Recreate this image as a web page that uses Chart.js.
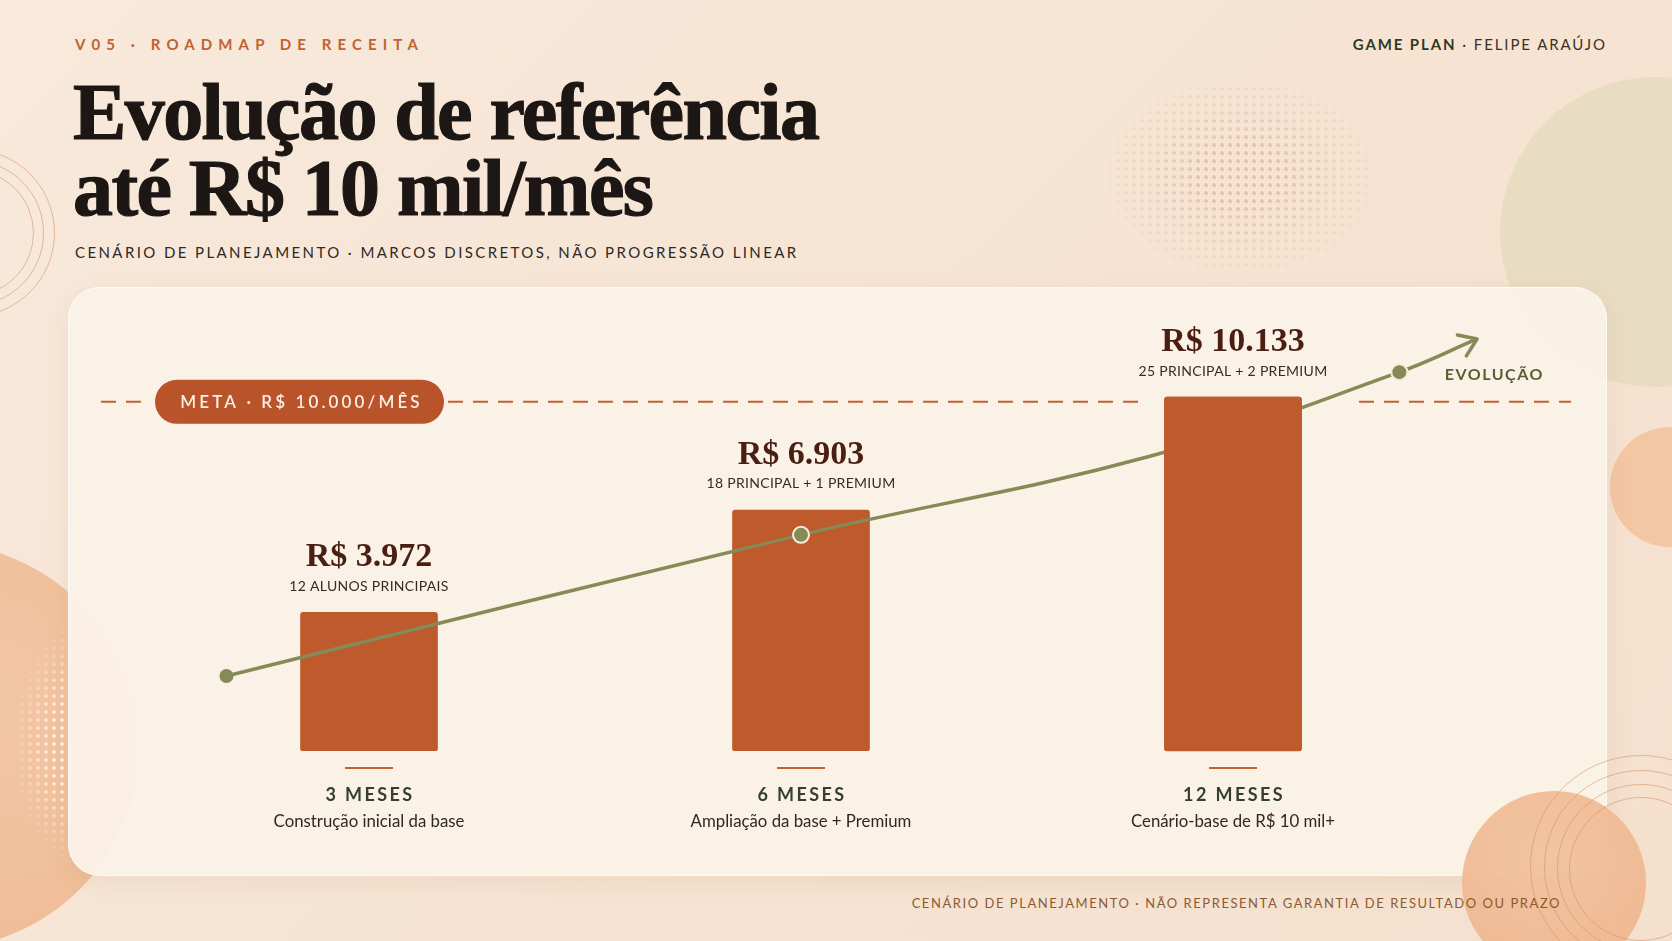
<!DOCTYPE html>
<html lang="pt-BR">
<head>
<meta charset="utf-8">
<script src="https://cdn.jsdelivr.net/npm/chart.js@4.4.1/dist/chart.umd.min.js"></script>
<style>
  html, body { margin: 0; padding: 0; }
  body {
    width: 1672px; height: 941px; overflow: hidden; position: relative;
    background: linear-gradient(135deg, #f8e9db 0%, #f6e3d2 60%, #f4e0cd 100%);
    font-family: Lato, 'Open Sans', sans-serif;
  }
  .deco { position: absolute; border-radius: 50%; }
  .ring { position: absolute; border-radius: 50%; border: 1px solid rgba(214, 140, 95, 0.55); }
  .dots { position: absolute; }
  #card {
    position: absolute; left: 68px; top: 287px; width: 1537px; height: 587px;
    border-radius: 32px; background: rgba(251, 242, 232, 0.94);
    box-shadow: 0 6px 24px rgba(160, 110, 70, 0.10);
    border: 1px solid rgba(255, 255, 255, 0.7);
  }
  .kicker {
    position: absolute; left: 75px; top: 35px; font-size: 15px; font-weight: 700;
    letter-spacing: 6.1px; color: #c0622e;
  }
  .byline {
    position: absolute; right: 65px; top: 35px; font-size: 15px; letter-spacing: 1.9px; color: #3b3127;
  }
  .byline b { color: #2f3a22; }
  h1 {
    position: absolute; left: 73px; top: 74px; margin: 0;
    font-family: 'Liberation Serif', serif; font-weight: 700; font-size: 80px;
    line-height: 76px; color: #1c1714; letter-spacing: -1.6px;
    -webkit-text-stroke: 1.2px #1c1714;
  }
  .sub {
    position: absolute; left: 75px; top: 243px; font-size: 15px; letter-spacing: 2.4px; color: #2e2924;
  }
  .foot {
    position: absolute; right: 111px; top: 895px; font-size: 13px; letter-spacing: 1.55px; color: #8b5a32;
  }
  #chart { position: absolute; left: 0; top: 0; }
</style>
</head>
<body>
<div class="deco" style="left:1500px;top:77px;width:310px;height:310px;background:#e8dcc2;"></div>
<div class="deco" style="left:1610px;top:427px;width:120px;height:120px;background:#f3c6a4;"></div>
<div class="deco" style="left:-267px;top:543px;width:406px;height:406px;background:radial-gradient(circle at 60% 40%, #f3c7a5, #eeb892);"></div>
<div class="dots" style="left:10px;top:620px;width:120px;height:250px;background-image:radial-gradient(circle, rgba(255,243,230,0.9) 1.6px, transparent 2.2px);background-size:8px 8px;-webkit-mask-image:radial-gradient(ellipse at 60% 50%, #000 25%, transparent 70%);"></div>
<div class="dots" style="left:1090px;top:85px;width:300px;height:200px;background-image:radial-gradient(circle, rgba(214,172,136,0.55) 1.6px, transparent 2.2px);background-size:8px 8px;-webkit-mask-image:radial-gradient(ellipse at 50% 45%, #000 20%, transparent 68%);"></div>
<div class="ring" style="left:-113px;top:149px;width:166px;height:166px;"></div>
<div class="ring" style="left:-102px;top:160px;width:144px;height:144px;"></div>
<div class="ring" style="left:-92px;top:170px;width:124px;height:124px;"></div>
<div id="card"></div>
<div class="deco" style="left:1462px;top:791px;width:184px;height:184px;background:radial-gradient(circle at 45% 35%, #f2c29e, #eeb48c);opacity:0.95;"></div>
<div class="ring" style="left:1530px;top:755px;width:220px;height:220px;"></div>
<div class="ring" style="left:1544px;top:770px;width:192px;height:192px;"></div>
<div class="ring" style="left:1557px;top:784px;width:166px;height:166px;"></div>
<div class="ring" style="left:1569px;top:797px;width:142px;height:142px;"></div>

<div class="kicker">V05 · ROADMAP DE RECEITA</div>
<div class="byline"><b>GAME PLAN</b> · FELIPE ARAÚJO</div>
<h1>Evolução de referência<br>até R$ 10 mil/mês</h1>
<div class="sub">CENÁRIO DE PLANEJAMENTO · MARCOS DISCRETOS, NÃO PROGRESSÃO LINEAR</div>
<div class="foot">CENÁRIO DE PLANEJAMENTO · NÃO REPRESENTA GARANTIA DE RESULTADO OU PRAZO</div>

<canvas id="chart" width="1672" height="941"></canvas>

<script>
// milestones
const categories = ['3 MESES', '6 MESES', '12 MESES'];
const descriptions = ['Construção inicial da base', 'Ampliação da base + Premium', 'Cenário-base de R$ 10 mil+'];
const revenue = [3972, 6903, 10133];
const mixLabels = ['12 ALUNOS PRINCIPAIS', '18 PRINCIPAL + 1 PREMIUM', '25 PRINCIPAL + 2 PREMIUM'];
const goal = 10000;
const goalLabel = 'META · R$ 10.000/MÊS';

// "evolução" trend curve (x in milestone units), last point is the arrow tip
const trendX = [-0.33, 1, 1.81, 2.385, 2.565];
const trendY = [2150, 6190, 8450, 10850, 11800];
const trendDots = [7, 8, 0, 8, 0];

const ORANGE = '#bf5a2d';
const OLIVE = '#858a56';
const fmt = (v) => 'R$ ' + v.toLocaleString('pt-BR');

const overlay = {
    id: 'overlay',
    beforeDatasetsDraw(chart) {
        const ctx = chart.ctx;
        const y = chart.scales.y.getPixelForValue(goal);
        const b3 = chart.getDatasetMeta(1).data[2];
        const pillL = 155, pillR = 444;

        // goal dashed line, broken around the pill and the last label
        ctx.save();
        ctx.strokeStyle = '#c4612f';
        ctx.lineWidth = 2;
        ctx.setLineDash([15, 10]);
        const segs = [[101, pillL - 8], [pillR + 4, b3.x - 94], [b3.x + 126, 1571]];
        segs.forEach(s => {
            ctx.beginPath(); ctx.moveTo(s[0], y); ctx.lineTo(s[1], y); ctx.stroke();
        });
        ctx.setLineDash([]);

        ctx.fillStyle = '#b9532a';
        ctx.beginPath();
        ctx.roundRect(pillL, y - 22, pillR - pillL, 44, 22);
        ctx.fill();
        ctx.fillStyle = '#fbeee2';
        ctx.font = '600 17px Lato';
        ctx.letterSpacing = '3.1px';
        ctx.textAlign = 'center';
        ctx.textBaseline = 'middle';
        ctx.fillText(goalLabel, (pillL + pillR) / 2 + 2, y + 1);
        ctx.restore();
    },
    afterDatasetsDraw(chart) {
        const ctx = chart.ctx;
        const bars = chart.getDatasetMeta(1).data;
        const pts = chart.getDatasetMeta(0).data;
        const base = chart.scales.y.getPixelForValue(0);

        // the last bar sits in front of the trend curve
        bars[2].draw(ctx);

        ctx.save();
        ctx.textAlign = 'center';
        ctx.textBaseline = 'middle';

        bars.forEach((bar, i) => {
            ctx.letterSpacing = '0px';
            ctx.fillStyle = '#4a1f12';
            ctx.font = 'bold 34px "Liberation Serif"';
            ctx.fillText(fmt(revenue[i]), bar.x, bar.y - 55);
            ctx.fillStyle = '#3a2a20';
            ctx.font = '14px Lato';
            ctx.letterSpacing = '0.3px';
            ctx.fillText(mixLabels[i], bar.x, bar.y - 26);

            ctx.strokeStyle = '#c4612f';
            ctx.lineWidth = 2;
            ctx.beginPath();
            ctx.moveTo(bar.x - 24, base + 17); ctx.lineTo(bar.x + 24, base + 17);
            ctx.stroke();

            ctx.fillStyle = '#34402a';
            ctx.font = 'bold 18px Lato';
            ctx.letterSpacing = '2.4px';
            ctx.fillText(categories[i], bar.x + 1, base + 44);
            ctx.fillStyle = '#2f2822';
            ctx.font = '16.8px Lato';
            ctx.letterSpacing = '0px';
            ctx.fillText(descriptions[i], bar.x, base + 71);
        });

        // arrow head at the end of the trend
        const a = pts[pts.length - 2], t = pts[pts.length - 1];
        const ang = Math.atan2(t.y - a.y, t.x - a.x);
        ctx.strokeStyle = OLIVE;
        ctx.lineWidth = 3.5;
        ctx.lineCap = 'round';
        ctx.lineJoin = 'round';
        ctx.beginPath();
        ctx.moveTo(t.x - 20 * Math.cos(ang - 0.6), t.y - 20 * Math.sin(ang - 0.6));
        ctx.lineTo(t.x, t.y);
        ctx.lineTo(t.x - 20 * Math.cos(ang + 0.6), t.y - 20 * Math.sin(ang + 0.6));
        ctx.stroke();

        const p3 = pts[pts.length - 2];
        ctx.fillStyle = '#566032';
        ctx.font = 'bold 16px Lato';
        ctx.letterSpacing = '1.5px';
        ctx.fillText('EVOLUÇÃO', p3.x + 95, p3.y + 3);
        ctx.restore();
    }
};

new Chart(document.getElementById('chart'), {
    type: 'bar',
    data: {
        labels: categories,
        datasets: [
            {
                type: 'line',
                order: 0,
                xAxisID: 'x2',
                data: trendX.map((x, i) => ({ x: x, y: trendY[i] })),
                borderColor: OLIVE,
                borderWidth: 3.5,
                tension: 0.4,
                pointRadius: trendDots,
                pointBackgroundColor: OLIVE,
                pointBorderColor: '#f6ecdc',
                pointBorderWidth: trendDots.map(r => r > 7 ? 2 : 0),
                clip: false
            },
            {
                type: 'bar',
                order: 1,
                data: revenue,
                backgroundColor: ORANGE,
                borderRadius: 3,
                borderSkipped: false,
                grouped: false,
                barThickness: 137,
                maxBarThickness: 137
            }
        ]
    },
    options: {
        responsive: false,
        animation: false,
        devicePixelRatio: 1,
        layout: { padding: { left: 153, right: 223, top: 332, bottom: 190 } },
        plugins: { legend: { display: false }, tooltip: { enabled: false } },
        scales: {
            x: { display: false, offset: true },
            x2: { type: 'linear', display: false, offset: false, min: -0.5, max: 2.5 },
            y: { display: false, min: 0, max: 12000 }
        }
    },
    plugins: [overlay]
});
</script>
</body>
</html>
